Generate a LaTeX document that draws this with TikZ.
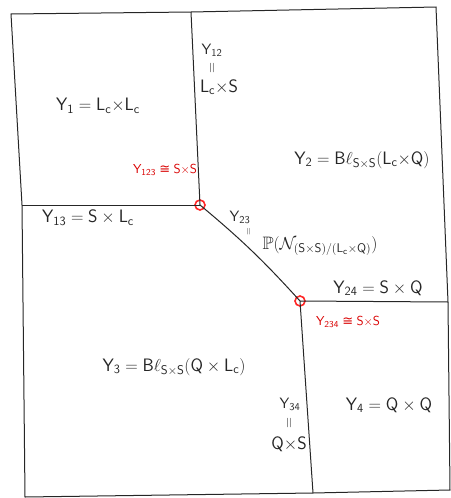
\documentclass[tikz,border=0pt]{standalone}
\usepackage{amsmath,amssymb}
\usepackage{fontspec}
\newfontfamily\symfont{DejaVu Sans}
\newcommand{\sY}{\mathsf{Y}}
\newcommand{\sL}{\mathsf{L}_{\mathsf{c}}}
\newcommand{\sS}{\mathsf{S}}
\newcommand{\sQ}{\mathsf{Q}}
\newcommand{\sBl}{\mathsf{B}\ell}
\newcommand{\vq}{\rotatebox{90}{$=$}}
\newcommand{\iso}{\mathrel{\text{\symfont ≅}}}
\begin{document}
\begin{tikzpicture}[x=1pt,y=-1pt,line width=1pt,
  lbl/.style={font=\fontsize{18}{20}\selectfont,inner sep=1pt,text=black!85},
  sml/.style={font=\fontsize{15}{17}\selectfont,inner sep=1pt,text=black!85},
  redlbl/.style={font=\fontsize{13}{15}\selectfont,inner sep=1pt,text=red!85!black},
  junction/.style={circle,draw=red!85,line width=1.6pt,minimum size=10pt,inner sep=0pt},
  edge/.style={draw=black!85}]
\useasboundingbox (0,0) rectangle (450,498);
\coordinate (tl) at (11,14);
\coordinate (tm) at (191,12);
\coordinate (tr) at (436,7);
\coordinate (rm) at (448,302);
\coordinate (br) at (450,490);
\coordinate (bm) at (313,493);
\coordinate (bl) at (25,497);
\coordinate (lm) at (22,205);
\node[junction] (p) at (200,205) {};
\node[junction] (q) at (300,301) {};
\draw[edge] (tl) -- (tm) -- (tr) -- (rm) -- (br) -- (bm) -- (bl) -- (lm) -- cycle;
\draw[edge] (tm) -- (p.center);
\draw[edge] (lm) -- (p.center);
\draw[edge] (p.center) to[bend left=4] (q.center);
\draw[edge] (q.center) -- (rm);
\draw[edge] (q.center) -- (bm);
% labels
\node[sml] (y12) at (212,50) {$\sY_{\mathsf{12}}$};
\node[sml] (e12) at (213,68) {\vq};
\node[lbl] (v12) at (219,87) {$\sL{\times}\sS$};
\node[lbl] (y1) at (98,106) {$\sY_{\mathsf{1}}=\sL{\times}\sL$};
\node[redlbl] (y123) at (165,170) {$\sY_{\mathsf{123}}\iso\sS{\times}\sS$};
\node[lbl] (y2) at (362,160) {$\sY_{\mathsf{2}}=\sBl_{\sS\times\sS}(\sL{\times}\sQ)$};
\node[lbl] (y13) at (88,218) {$\sY_{\mathsf{13}}=\sS\times\sL$};
\node[sml] (y23) at (240,217) {$\sY_{\mathsf{23}}$};
\node[sml,scale=0.7] (e23) at (249,232) {\vq};
\node[lbl] (v23) at (320,246) {$\mathbb{P}(\mathcal{N}_{(\sS\times\sS)/(\sL\times\sQ)})$};
\node[lbl] (y24) at (378,288) {$\sY_{\mathsf{24}}=\sS\times\sQ$};
\node[redlbl] (y234) at (348,322) {$\sY_{\mathsf{234}}\iso\sS{\times}\sS$};
\node[lbl] (y3) at (174,367) {$\sY_{\mathsf{3}}=\sBl_{\sS\times\sS}(\sQ\times\sL)$};
\node[sml] (y34) at (290,404) {$\sY_{\mathsf{34}}$};
\node[sml] (e34) at (290,423) {\vq};
\node[lbl] (v34) at (289,444) {$\sQ{\times}\sS$};
\node[lbl] (y4) at (389,405) {$\sY_{\mathsf{4}}=\sQ\times\sQ$};
\end{tikzpicture}
\end{document}
